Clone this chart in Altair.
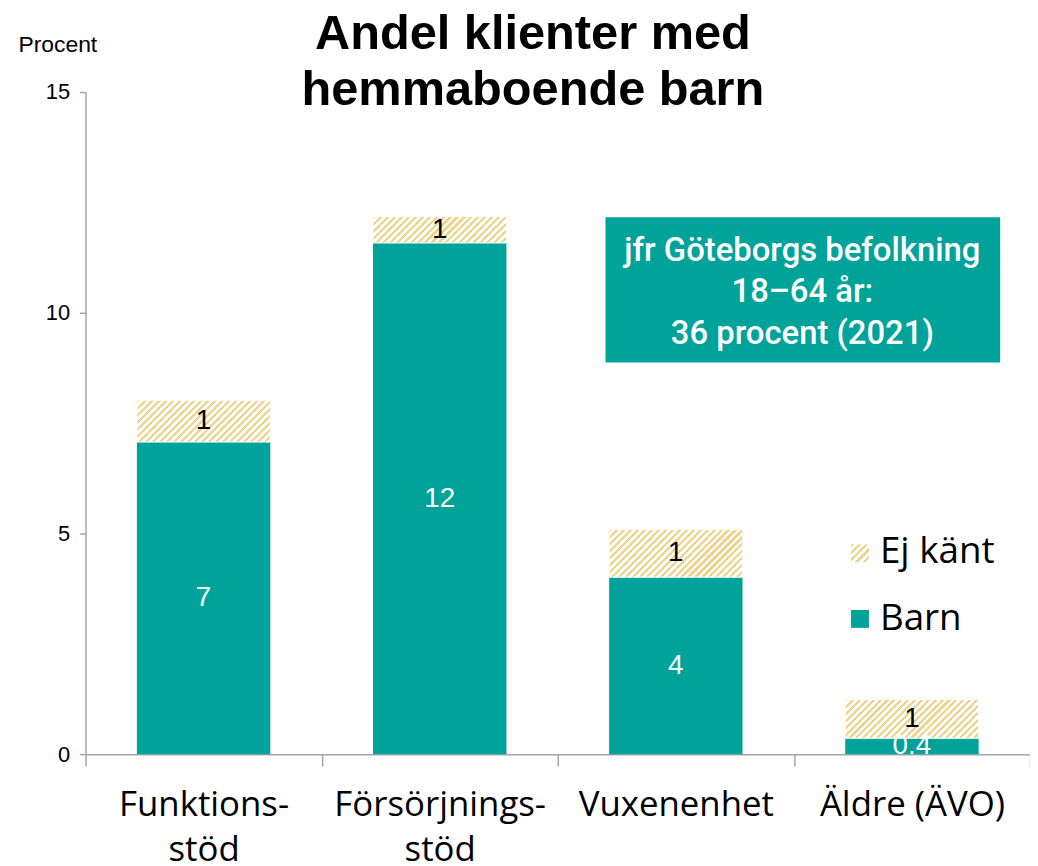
import altair as alt
import pandas as pd

categories = ["Funktions-\nstöd", "Försörjnings-\nstöd", "Vuxenenhet", "Äldre (ÄVO)"]
barn = [7.07, 11.58, 4.01, 0.36]
ej_kant = [0.95, 0.60, 1.08, 0.88]
barn_labels = ["7", "12", "4", "0.4"]
ej_labels = ["1", "1", "1", "1"]
y_ticks = [0, 5, 10, 15]
series = ["Ej känt", "Barn"]
title_lines = ["Andel klienter med", "hemmaboende barn"]
box_lines = ["jfr Göteborgs befolkning", "18\u201364 år:", "36 procent (2021)"]

TEAL = "#00A39A"
GOLD = "#EFD48C"
W, H = 950, 666
YMAX = 15
BAR_FRAC = 0.565
STEP = W / len(categories)
BW = STEP * BAR_FRAC
STRIPE = 7.0  # period along x+y, px


def hatch(w, h):
    a = (w + h) * w / (w * w + h * h)
    b = (w + h) * h / (w * w + h * h)
    n = max(1, int(round((w + h) / STRIPE)))
    stops = []
    for i in range(n):
        o0 = i / n
        o1 = (i + 0.45) / n
        o2 = (i + 1) / n
        stops += [
            {"offset": o0, "color": GOLD},
            {"offset": o1, "color": GOLD},
            {"offset": o1, "color": "#FFFFFF"},
            {"offset": o2, "color": "#FFFFFF"},
        ]
    return {"gradient": "linear", "x1": 0, "y1": 0, "x2": a, "y2": b, "stops": stops}


df = pd.DataFrame({
    "cat": categories,
    "barn": barn,
    "ej": ej_kant,
    "barn_label": barn_labels,
    "ej_label": ej_labels,
})
df["top"] = df["barn"] + df["ej"]
df["barn_mid"] = df["barn"] / 2
df["ej_mid"] = df["barn"] + df["ej"] / 2

yscale = alt.Scale(domain=[0, YMAX], nice=False)
X = alt.X(
    "cat:N",
    sort=categories,
    title=None,
    scale=alt.Scale(paddingInner=0, paddingOuter=0),
    axis=alt.Axis(
        labelExpr="split(datum.label, '\\n')",
        labelAngle=0,
        labelFont="Open Sans",
        labelFontSize=35,
        labelColor="#000000",
        labelLineHeight=45,
        labelPadding=22,
        labelLimit=400,
        labelOverlap=False,
        tickBand="extent",
        tickSize=12,
        tickColor="#A6A6A6",
        tickWidth=1.5,
        domainColor="#A6A6A6",
        domainWidth=1.5,
        grid=False,
    ),
)

base = alt.Chart(df)
bar_width = alt.RelativeBandSize(BAR_FRAC)

barn_bars = base.mark_bar(color=TEAL, width=bar_width).encode(
    x=X,
    y=alt.Y(
        "barn:Q",
        scale=yscale,
        axis=alt.Axis(
            values=y_ticks,
            title="Procent",
            titleAngle=0,
            titleAlign="left",
            titleBaseline="alphabetic",
            titleX=-68,
            titleY=-41,
            titleFont="Liberation Sans",
            titleFontSize=23,
            titleFontWeight="normal",
            titleColor="#000000",
            labelFont="Liberation Sans",
            labelFontSize=22,
            labelColor="#000000",
            labelPadding=10,
            tickSize=6,
            tickColor="#A6A6A6",
            tickWidth=1.5,
            domainColor="#A6A6A6",
            domainWidth=1.5,
            grid=False,
        ),
    ),
)

hatch_layers = []
for cat, e in zip(categories, ej_kant):
    h = e / YMAX * H
    hatch_layers.append(
        base.transform_filter(alt.datum.cat == cat)
        .mark_bar(fill=hatch(BW, h), stroke="#FFFFFF", strokeWidth=1, width=bar_width)
        .encode(x=X, y="barn:Q", y2="top:Q")
    )

barn_text = base.mark_text(
    color="#FFFFFF", font="Liberation Sans", fontSize=28, baseline="middle", clip=True
).encode(x=X, y="barn_mid:Q", text="barn_label:N")

ej_text = base.mark_text(
    color="#000000", font="Liberation Sans", fontSize=28, baseline="middle"
).encode(x=X, y="ej_mid:Q", text="ej_label:N")

one = alt.Chart(pd.DataFrame({"k": [0]}))

title = one.mark_text(
    text=title_lines, font="Liberation Sans", fontSize=49, fontWeight="bold",
    lineHeight=56, baseline="alphabetic", align="center", color="#000000",
).encode(x=alt.value(450), y=alt.value(-43))

box = one.mark_rect(color=TEAL).encode(
    x=alt.value(523), x2=alt.value(920), y=alt.value(126), y2=alt.value(272)
)
box_text = one.mark_text(
    text=box_lines, font="Roboto", fontSize=33, fontWeight=500, lineHeight=41.5,
    baseline="middle", align="center", color="#FFFFFF",
).encode(x=alt.value(721), y=alt.value(160))

leg_ej_sym = one.mark_rect(fill=hatch(18, 18)).encode(
    x=alt.value(770), x2=alt.value(788), y=alt.value(455), y2=alt.value(473)
)
leg_barn_sym = one.mark_rect(color=TEAL).encode(
    x=alt.value(770), x2=alt.value(788), y=alt.value(521), y2=alt.value(539)
)
leg_ej_txt = one.mark_text(
    text=series[0], font="Open Sans", fontSize=37, align="left", baseline="middle", color="#000000"
).encode(x=alt.value(799), y=alt.value(463))
leg_barn_txt = one.mark_text(
    text=series[1], font="Open Sans", fontSize=37, align="left", baseline="middle", color="#000000"
).encode(x=alt.value(799), y=alt.value(530))

chart = alt.layer(
    barn_bars, *hatch_layers, barn_text, ej_text, title, box, box_text,
    leg_ej_sym, leg_barn_sym, leg_ej_txt, leg_barn_txt,
).properties(
    width=W, height=H,
    autosize=alt.AutoSizeParams(type="none"),
    padding={"left": 78, "top": 82, "right": 0, "bottom": 110},
).configure_view(stroke=None)

chart.save("out.html", embed_options={"renderer": "svg", "actions": False})
